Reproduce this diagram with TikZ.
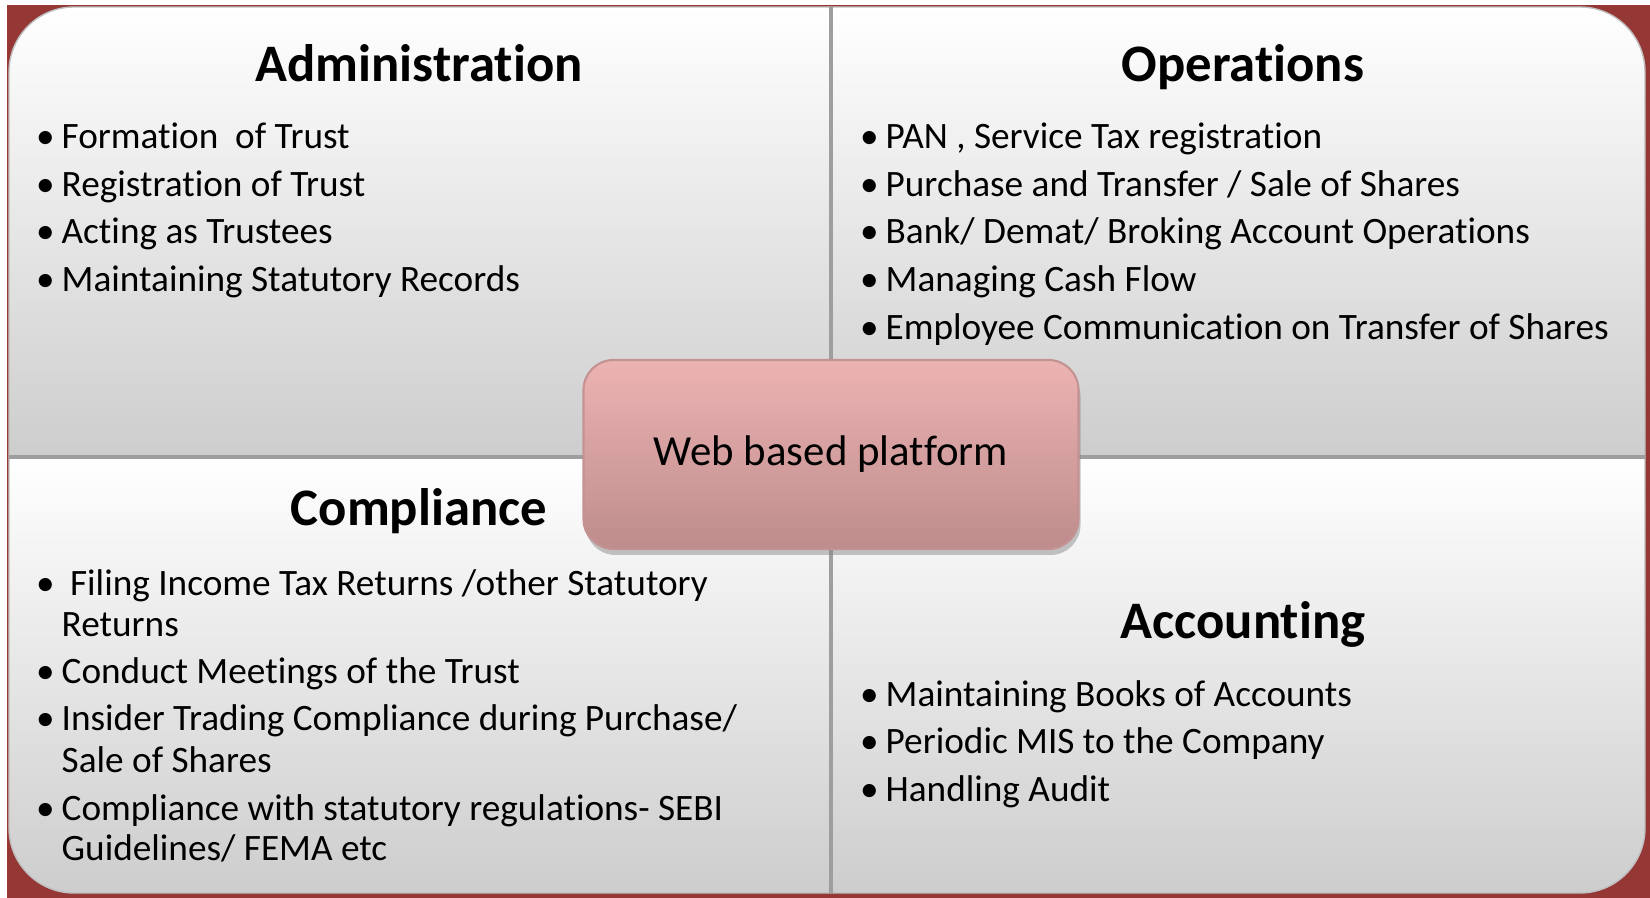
\documentclass[tikz,border=0pt]{standalone}
\usepackage{fontspec}
\setmainfont{Carlito}[Ligatures=NoCommon]
\usetikzlibrary{shadows}
\definecolor{deepred}{RGB}{149,55,53}
\definecolor{panelgray}{RGB}{205,205,205}
\definecolor{panelmid}{RGB}{238,238,238}
\definecolor{webtop}{RGB}{237,179,179}
\definecolor{webbot}{RGB}{190,140,140}
\definecolor{webedge}{RGB}{196,146,146}
\newcommand{\bul}{\llap{\textbullet\hspace{0.07cm}}}

\begin{document}
\begin{tikzpicture}[
  head/.style={anchor=base,inner sep=0pt,font=\fontsize{15}{18}\selectfont\bfseries},
  item/.style={anchor=base west,inner sep=0pt,font=\fontsize{10.6}{12}\selectfont},
  panel/.style={top color=white,middle color=panelmid,bottom color=panelgray},
  divider/.style={black!38,line width=1.1pt},
  web/.style={draw=webedge,line width=0.6pt,rounded corners=0.3cm,top color=webtop,bottom color=webbot,
    minimum width=4.95cm,minimum height=1.89cm,font=\fontsize{12.2}{14}\selectfont,
    drop shadow={opacity=0.45,shadow xshift=0.02cm,shadow yshift=-0.06cm}}]
  \fill[white]   (0,0) rectangle (16.5,8.98);
  \fill[deepred] (0.07,0) rectangle (16.5,8.93);
  % four panels, rounded only on the outer corners
  \begin{scope}
    \clip[rounded corners=0.65cm] (0.09,0.05) rectangle (16.45,8.91);
    \shade[panel] (0.09,4.41) rectangle (8.31,8.91);
    \shade[panel] (8.31,4.41) rectangle (16.45,8.91);
    \shade[panel] (0.09,0.05) rectangle (8.31,4.41);
    \shade[panel] (8.31,0.05) rectangle (16.45,4.41);
  \end{scope}
  \draw[black!25,rounded corners=0.65cm] (0.09,0.05) rectangle (16.45,8.91);
  \draw[divider] (8.31,0.05) -- (8.31,8.91);
  \draw[divider] (0.09,4.41) -- (16.45,4.41);
  % Administration (top left)
  \node[head] (adm)  at (4.19,8.16) {Administration};
  \node[item] (adm1) at (0.61,7.49) {\bul Formation\ \ of Trust};
  \node[item] (adm2) at (0.61,7.01) {\bul Registration of Trust};
  \node[item] (adm3) at (0.61,6.54) {\bul Acting as Trustees};
  \node[item] (adm4) at (0.61,6.06) {\bul Maintaining Statutory Records};
  % Operations (top right)
  \node[head] (ops)  at (12.43,8.16) {Operations};
  \node[item] (ops1) at (8.85,7.49) {\bul PAN , Service Tax registration};
  \node[item] (ops2) at (8.85,7.01) {\bul Purchase and Transfer / Sale of Shares};
  \node[item] (ops3) at (8.85,6.54) {\bul Bank/ Demat/ Broking Account Operations};
  \node[item] (ops4) at (8.85,6.06) {\bul Managing Cash Flow};
  \node[item] (ops5) at (8.85,5.58) {\bul Employee Communication on Transfer of Shares};
  % Compliance (bottom left), wrapped items go on two lines
  \node[head] (cmp)   at (4.19,3.72) {Compliance};
  \node[item] (cmp1)  at (0.61,3.02) {\bul~Filing Income Tax Returns /other Statutory};
  \node[item] (cmp1b) at (0.61,2.61) {Returns};
  \node[item] (cmp2)  at (0.61,2.14) {\bul Conduct Meetings of the Trust};
  \node[item] (cmp3)  at (0.61,1.67) {\bul Insider Trading Compliance during Purchase/};
  \node[item] (cmp3b) at (0.61,1.25) {Sale of Shares};
  \node[item] (cmp4)  at (0.61,0.77) {\bul Compliance with statutory regulations- SEBI};
  \node[item] (cmp4b) at (0.61,0.37) {Guidelines/ FEMA etc};
  % Accounting (bottom right)
  \node[head] (acc)  at (12.43,2.59) {Accounting};
  \node[item] (acc1) at (8.85,1.91) {\bul Maintaining Books of Accounts};
  \node[item] (acc2) at (8.85,1.44) {\bul Periodic MIS to the Company};
  \node[item] (acc3) at (8.85,0.96) {\bul Handling Audit};
  % platform box on top of the cross
  \node[web] (web) at (8.31,4.435) {Web based platform};
\end{tikzpicture}
\end{document}
